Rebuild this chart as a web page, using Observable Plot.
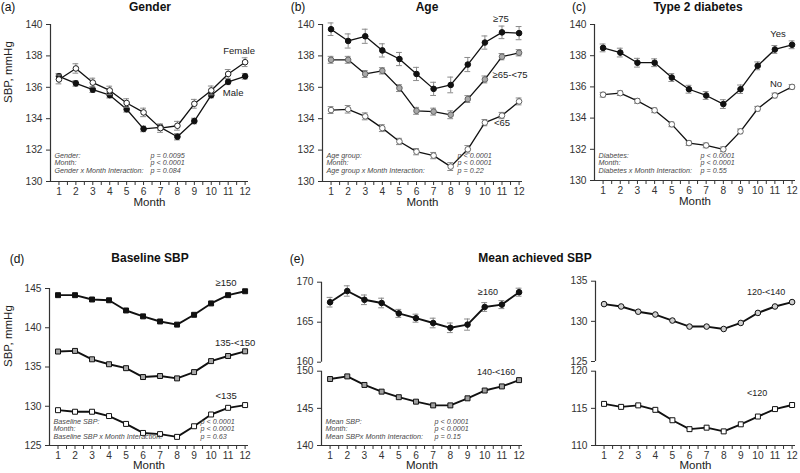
<!DOCTYPE html>
<html><head><meta charset="utf-8">
<script src="https://cdn.jsdelivr.net/npm/d3@7"></script>
<script src="https://cdn.jsdelivr.net/npm/@observablehq/plot@0.6"></script>
<style>
body{margin:0;background:#fff;font-family:"Liberation Sans",Arial,sans-serif;}
#root{position:relative;width:800px;height:473px;overflow:hidden;background:#fff;}
#root svg{position:absolute;overflow:visible;}
.t{position:absolute;white-space:nowrap;line-height:1;color:#111;transform:translate(-50%,-50%);}
</style></head><body><div id="root"></div>
<script>
// ---------- data ----------
const months = [1,2,3,4,5,6,7,8,9,10,11,12];
const monthTicks = [1,1.5,2,2.5,3,3.5,4,4.5,5,5.5,6,6.5,7,7.5,8,8.5,9,9.5,10,10.5,11,11.5,12];

// (a) Gender
const femaleSBP = [136.5,137.2,136.3,135.8,135.0,134.4,133.4,133.55,134.95,135.8,136.85,137.6];
const femaleSE  = [0.28,0.3,0.28,0.27,0.27,0.27,0.27,0.28,0.28,0.28,0.28,0.28];
const maleSBP   = [136.7,136.25,135.85,135.5,134.6,133.35,133.45,132.85,133.85,135.5,136.35,136.7];
const maleSE    = [0.18,0.18,0.18,0.18,0.18,0.18,0.18,0.2,0.18,0.18,0.18,0.18];
const genderStatLabels = ["Gender:","Month:","Gender x Month Interaction:"];
const genderStatValues = ["p = 0.0095","p < 0.0001","p = 0.084"];

// (b) Age
const age75SBP   = [139.7,138.95,139.25,138.35,137.8,136.85,135.9,136.15,137.45,138.85,139.5,139.45];
const age75SE    = [0.4,0.45,0.45,0.42,0.42,0.42,0.42,0.5,0.45,0.42,0.4,0.42];
const age65SBP   = [137.75,137.75,136.85,137.05,135.95,134.5,134.45,134.25,135.25,136.5,137.95,138.2];
const age65SE    = [0.22,0.22,0.22,0.2,0.22,0.22,0.22,0.25,0.22,0.22,0.2,0.2];
const ageLt65SBP = [134.55,134.6,134.15,133.4,132.55,131.9,131.65,130.95,132.05,133.75,134.2,135.1];
const ageLt65SE  = [0.22,0.24,0.22,0.22,0.2,0.2,0.2,0.25,0.24,0.2,0.2,0.22];
const ageStatLabels = ["Age group:","Month:","Age group x Month Interaction:"];
const ageStatValues = ["p < 0.0001","p < 0.0001","p = 0.22"];

// (c) Type 2 diabetes
const diabYesSBP = [138.5,138.2,137.55,137.55,136.6,135.85,135.45,134.9,135.85,137.35,138.4,138.7];
const diabYesSE  = [0.25,0.28,0.28,0.25,0.25,0.25,0.25,0.28,0.27,0.25,0.25,0.25];
const diabNoSBP  = [135.5,135.6,135.1,134.5,133.6,132.4,132.25,132.0,133.15,134.6,135.45,136.0];
const diabNoSE   = [0.15,0.15,0.15,0.15,0.15,0.15,0.15,0.15,0.15,0.15,0.15,0.15];
const diabStatLabels = ["Diabetes:","Month:","Diabetes x Month Interaction:"];
const diabStatValues = ["p < 0.0001","p < 0.0001","p = 0.55"];

// (d) Baseline SBP
const base150SBP   = [144.15,144.15,143.6,143.5,142.2,141.45,140.8,140.4,141.65,143.1,144.15,144.65];
const base135SBP   = [136.97,137.05,135.98,135.35,134.85,133.72,133.85,133.55,134.35,135.75,136.4,137.0];
const baseLt135SBP = [129.5,129.3,129.3,128.75,127.75,126.6,126.45,126.1,127.45,128.95,129.8,130.15];
const baseStatLabels = ["Baseline SBP:","Month:","Baseline SBP x Month Interaction:"];
const baseStatValues = ["p < 0.0001","p < 0.0001","p = 0.63"];

// (e) Mean achieved SBP
const mean160SBP   = [167.5,168.9,167.8,167.4,166.1,165.5,164.9,164.3,164.7,166.9,167.2,168.75];
const mean160SE    = [0.6,0.65,0.6,0.6,0.5,0.5,0.6,0.6,0.7,0.55,0.5,0.5];
const mean140SBP   = [148.95,149.3,148.15,147.25,146.5,145.9,145.4,145.4,146.35,147.4,147.95,148.8];
const mean120SBP   = [132.15,131.85,131.2,130.85,130.1,129.35,129.35,129.05,129.8,131.05,131.85,132.4];
const meanLt120SBP = [115.6,115.2,115.4,114.8,113.4,112.2,112.4,111.9,112.85,113.9,114.9,115.45];
const meanStatLabels = ["Mean SBP:","Month:","Mean SBPx Month Interaction:"];
const meanStatValues = ["p < 0.0001","p < 0.0001","p = 0.15"];

// ---------- drawing ----------
const root = document.getElementById("root");
const X_DOMAIN = [0.5, 12.2];
const FONT = "'Liberation Sans', Arial, sans-serif";

function htmlText(x, y, str, opts = {}) {
  const d = document.createElement("div");
  d.className = "t";
  d.textContent = str;
  d.style.left = x + "px";
  d.style.top = y + "px";
  d.style.fontSize = (opts.size || 12) + "px";
  if (opts.bold) d.style.fontWeight = "bold";
  root.appendChild(d);
}

function panel(cfg) {
  const [mt, mr, mb, ml] = cfg.margin;
  const lw = cfg.lineWidth || 1.3;
  const marks = [];
  marks.push(Plot.ruleX([X_DOMAIN[0]], {stroke: "#333", strokeWidth: 1.2}));
  if (cfg.showX) marks.push(Plot.ruleY([cfg.yDomain[0]], {stroke: "#333", strokeWidth: 1.2}));
  for (const s of cfg.series) {
    const rows = months.map((m, i) => ({m, v: s.values[i], e: s.se ? s.se[i] : 0}));
    if (s.se) {
      marks.push(Plot.ruleX(rows, {x: "m", y1: d => d.v - d.e, y2: d => d.v + d.e, stroke: "#8a8a8a", strokeWidth: 1}));
      marks.push(Plot.ruleY(rows, {y: d => d.v + d.e, x1: d => d.m - 0.17, x2: d => d.m + 0.17, stroke: "#8a8a8a", strokeWidth: 1}));
      marks.push(Plot.ruleY(rows, {y: d => d.v - d.e, x1: d => d.m - 0.17, x2: d => d.m + 0.17, stroke: "#8a8a8a", strokeWidth: 1}));
    }
    marks.push(Plot.line(rows, {x: "m", y: "v", stroke: "#111", strokeWidth: lw}));
    marks.push(Plot.dot(rows, {x: "m", y: "v", r: s.r || 2.8, symbol: s.symbol || "circle", fill: s.fill, stroke: s.stroke || "#111", strokeWidth: 1}));
    if (s.label) {
      const anchorRow = rows[s.labelAt ?? 11];
      marks.push(Plot.text([anchorRow], {x: "m", y: "v", text: () => s.label, dx: s.ldx, dy: s.ldy,
        fontSize: cfg.labelSize || 9.5, fill: "#222", textAnchor: "middle"}));
    }
  }
  if (cfg.stats) {
    cfg.stats.labels.forEach((lab, i) => {
      const dy = cfg.stats.dy0 + i * 7.5;
      marks.push(Plot.text([lab], {frameAnchor: "bottom-left", dx: 4, dy, fontSize: 7.2, fontStyle: "italic", fill: "#4a4a4a", textAnchor: "start"}));
      marks.push(Plot.text([cfg.stats.values[i]], {frameAnchor: "bottom-left", dx: cfg.stats.pdx, dy, fontSize: 7.2, fontStyle: "italic", fill: "#4a4a4a", textAnchor: "start"}));
    });
  }
  if (cfg.showX) {
    marks.push(Plot.text(["Month"], {frameAnchor: "bottom", dy: cfg.monthDy || 24.5, fontSize: 11.5, fill: "#222"}));
  }
  if (cfg.ylabel) {
    marks.push(Plot.text([cfg.ylabel], {frameAnchor: "left", dx: -(ml - 8), rotate: -90, fontSize: 11.5, fill: "#222"}));
  }
  const svg = Plot.plot({
    width: cfg.width, height: cfg.height,
    marginTop: mt, marginRight: mr, marginBottom: mb, marginLeft: ml,
    x: cfg.showX
      ? {domain: X_DOMAIN, ticks: monthTicks, tickFormat: d => Number.isInteger(d) ? String(d) : "", tickSize: 4, tickPadding: 2, label: null}
      : {domain: X_DOMAIN, axis: null},
    y: {domain: cfg.yDomain, ticks: cfg.yTicks, tickSize: 4, tickPadding: 4, label: null},
    style: {background: "transparent", fontFamily: FONT, fontSize: "10.2px", color: "#333", overflow: "visible"},
    marks
  });
  svg.style.left = cfg.left + "px";
  svg.style.top = cfg.top + "px";
  root.appendChild(svg);
}

// (a)
panel({left: 0, top: 0, width: 260, height: 235, margin: [24, 12, 54, 50],
  yDomain: [130, 140], yTicks: [130,132,134,136,138,140], showX: true, ylabel: "SBP, mmHg",
  series: [
    {values: maleSBP, se: maleSE, fill: "#111", label: "Male", ldx: -12, ldy: 17},
    {values: femaleSBP, se: femaleSE, fill: "#fff", stroke: "#222", label: "Female", ldx: -6, ldy: -11}
  ],
  stats: {labels: genderStatLabels, values: genderStatValues, dy0: -23.7, pdx: 100}
});
// (b)
panel({left: 260, top: 0, width: 270, height: 235, margin: [24, 8, 54, 62],
  yDomain: [130, 140], yTicks: [130,132,134,136,138,140], showX: true,
  series: [
    {values: ageLt65SBP, se: ageLt65SE, fill: "#fff", stroke: "#666", label: "<65", ldx: -17, ldy: 22},
    {values: age65SBP, se: age65SE, fill: "#a8a8a8", stroke: "#666", label: "≥65-<75", ldx: -9, ldy: 22},
    {values: age75SBP, se: age75SE, fill: "#111", label: "≥75", labelAt: 10, ldx: -1, ldy: -13}
  ],
  stats: {labels: ageStatLabels, values: ageStatValues, dy0: -23.7, pdx: 135}
});
// (c)
panel({left: 530, top: 0, width: 270, height: 235, margin: [24, 5, 55, 64],
  yDomain: [130, 140], yTicks: [130,132,134,136,138,140], showX: true,
  series: [
    {values: diabNoSBP, se: diabNoSE, fill: "#fff", stroke: "#666", label: "No", ldx: -16, ldy: -3},
    {values: diabYesSBP, se: diabYesSE, fill: "#111", label: "Yes", ldx: -14, ldy: -11}
  ],
  stats: {labels: diabStatLabels, values: diabStatValues, dy0: -22.7, pdx: 106}
});
// (d)
panel({left: 0, top: 235, width: 260, height: 238, margin: [53, 12, 28, 49],
  yDomain: [125, 145], yTicks: [125,130,135,140,145], showX: true, monthDy: 23.5, ylabel: "SBP, mmHg", lineWidth: 1.9,
  series: [
    {values: baseLt135SBP, fill: "#fff", symbol: "square", r: 2.8, label: "<135", ldx: -19, ldy: -9},
    {values: base135SBP, fill: "#a8a8a8", symbol: "square", r: 2.8, label: "135-<150", ldx: -10, ldy: -8},
    {values: base150SBP, fill: "#111", symbol: "square", r: 2.8, label: "≥150", ldx: -19, ldy: -8}
  ],
  stats: {labels: baseStatLabels, values: baseStatValues, dy0: -22, pdx: 151}
});
// (e) left upper / lower
panel({left: 260, top: 235, width: 270, height: 136, margin: [46.7, 8, 9.3, 61],
  yDomain: [160, 170], yTicks: [160,165,170], showX: false, lineWidth: 1.9, labelSize: 9,
  series: [
    {values: mean160SBP, se: mean160SE, fill: "#111", label: "≥160", ldx: -31, ldy: 0}
  ]
});
panel({left: 260, top: 360, width: 270, height: 113, margin: [10.7, 8, 28, 61],
  yDomain: [140, 150], yTicks: [140,145,150], showX: true, monthDy: 23.5, lineWidth: 1.9, labelSize: 9,
  series: [
    {values: mean140SBP, fill: "#a0a0a0", symbol: "square", r: 2.8, label: "140-<160", ldx: -23, ldy: -8}
  ],
  stats: {labels: meanStatLabels, values: meanStatValues, dy0: -22, pdx: 113}
});
// (e) right upper / lower
panel({left: 530, top: 235, width: 270, height: 136, margin: [45.7, 5, 10, 65],
  yDomain: [125, 135], yTicks: [125,130,135], showX: false, lineWidth: 1.9, labelSize: 9,
  series: [
    {values: mean120SBP, fill: "#cfcfcf", label: "120-<140", ldx: -26, ldy: -10}
  ]
});
panel({left: 530, top: 360, width: 270, height: 113, margin: [10.7, 5, 28, 65],
  yDomain: [110, 120], yTicks: [110,115,120], showX: true, monthDy: 23.5, lineWidth: 1.9, labelSize: 9,
  series: [
    {values: meanLt120SBP, fill: "#fff", symbol: "square", r: 2.8, label: "<120", ldx: -35, ldy: -12}
  ]
});

// titles and panel tags
htmlText(150, 7, "Gender", {bold: true});
htmlText(427, 7, "Age", {bold: true});
htmlText(698, 7, "Type 2 diabetes", {bold: true});
htmlText(150, 258, "Baseline SBP", {bold: true});
htmlText(535, 258, "Mean achieved SBP", {bold: true});
htmlText(8, 7, "(a)");
htmlText(298, 7, "(b)");
htmlText(579, 7, "(c)");
htmlText(17, 259, "(d)");
htmlText(297, 259, "(e)");
</script>
</body></html>
